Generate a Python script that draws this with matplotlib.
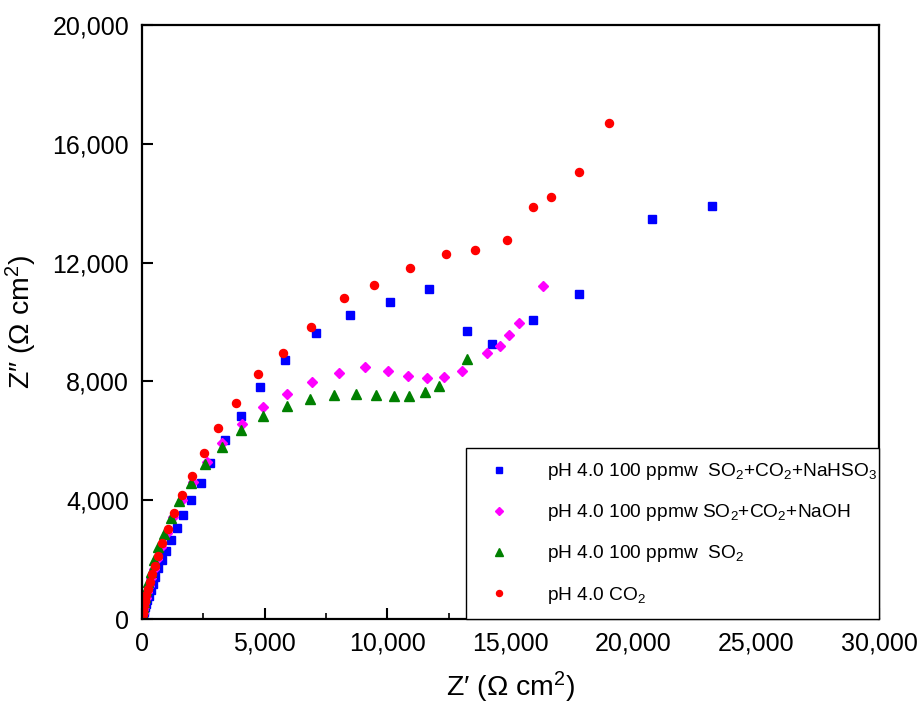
import matplotlib
matplotlib.use("Agg")
import matplotlib.pyplot as plt
from matplotlib.ticker import MultipleLocator, FuncFormatter

plt.rcParams['font.family'] = ['Liberation Sans', 'DejaVu Sans']
plt.rcParams['mathtext.fontset'] = 'custom'
plt.rcParams['mathtext.rm'] = 'Liberation Sans'
plt.rcParams['mathtext.it'] = 'Liberation Sans:italic'
plt.rcParams['mathtext.bf'] = 'Liberation Sans:bold'

# Data (Z', Z'') in Ohm cm^2
nahso3_x = [23192, 20776, 17781, 15909, 14266, 13224, 11690, 10103, 8489, 7080, 5831, 4826,
            4040, 3389, 2779, 2401, 2006, 1693, 1424, 1180, 977, 814, 676, 554,
            450, 365, 295, 235, 185, 145, 110, 85, 62, 45, 30, 20]
nahso3_y = [13895, 13479, 10953, 10057, 9270, 9687, 11111, 10684, 10246, 9630, 8731, 7811,
            6846, 6027, 5263, 4590, 3996, 3502, 3054, 2660, 2300, 1987, 1707, 1424,
            1180, 970, 790, 640, 510, 400, 310, 235, 170, 120, 80, 50]

naoh_x = [16328, 15350, 14958, 14566, 14037, 13045, 12312, 11596, 10835, 10034, 9086, 8016,
          6917, 5900, 4948, 4069, 3281, 2645, 2101, 1650, 1290, 1010, 790, 620,
          480, 370, 280, 210, 155, 110, 78, 52, 34, 20]
naoh_y = [11202, 9976, 9562, 9181, 8967, 8360, 8138, 8125, 8172, 8360, 8474, 8293,
          7970, 7576, 7148, 6555, 5916, 5297, 4623, 4000, 3420, 2900, 2430, 2030,
          1680, 1380, 1120, 900, 710, 550, 410, 300, 210, 140]

so2_x = [13224, 12097, 11527, 10888, 10266, 9533, 8719, 7824, 6848, 5900, 4948, 4040,
         3255, 2576, 2006, 1530, 1180, 895, 676, 500, 366, 244, 170, 115, 75, 48, 30, 18]
so2_y = [8744, 7855, 7653, 7519, 7519, 7542, 7576, 7542, 7397, 7172, 6835, 6364,
         5801, 5209, 4569, 3973, 3391, 2862, 2414, 1987, 1593, 1256, 980, 750, 560, 410, 290, 200]

co2_x = [19001, 17781, 16642, 15921, 14851, 13549, 12369, 10904, 9440, 8219, 6889, 5762,
         4732, 3825, 3117, 2547, 2034, 1627, 1302, 1058, 838, 676, 541, 419,
         325, 250, 190, 140, 100, 70, 50, 35, 25, 16]
co2_y = [16710, 15051, 14209, 13862, 12761, 12414, 12279, 11829, 11246, 10818, 9832, 8967,
         8239, 7283, 6421, 5599, 4825, 4165, 3559, 3030, 2549, 2131, 1795, 1505,
         1236, 1000, 800, 620, 470, 350, 250, 170, 110, 60]

labels = ['pH 4.0 100 ppmw  SO$_2$+CO$_2$+NaHSO$_3$',
          'pH 4.0 100 ppmw SO$_2$+CO$_2$+NaOH',
          'pH 4.0 100 ppmw  SO$_2$',
          'pH 4.0 CO$_2$']

fig = plt.figure(figsize=(9.22, 7.06), dpi=100)
ax = fig.add_axes([0.1537, 0.1232, 0.7997, 0.8414])

ax.plot(nahso3_x, nahso3_y, ls='none', marker='s', ms=5.2, color='#0000ff', mec='#0000ff', label=labels[0])
ax.plot(naoh_x, naoh_y, ls='none', marker='D', ms=5.2, color='#ff00ff', mec='#ff00ff', label=labels[1])
ax.plot(so2_x, so2_y, ls='none', marker='^', ms=7.0, color='#008000', mec='#008000', label=labels[2])
ax.plot(co2_x, co2_y, ls='none', marker='o', ms=5.8, color='#ff0000', mec='#ff0000', label=labels[3])

ax.set_xlim(0, 30000)
ax.set_ylim(0, 20000)
ax.xaxis.set_major_locator(MultipleLocator(5000))
ax.xaxis.set_minor_locator(MultipleLocator(2500))
ax.yaxis.set_major_locator(MultipleLocator(4000))
fmt = FuncFormatter(lambda v, p: f'{int(round(v)):,}')
ax.xaxis.set_major_formatter(fmt)
ax.yaxis.set_major_formatter(fmt)

ax.tick_params(axis='both', which='major', direction='in', length=8, width=1.5,
               labelsize=18, top=False, right=False, pad=9)
ax.tick_params(axis='x', which='minor', direction='in', length=4.5, width=1.2, top=False)
for s in ax.spines.values():
    s.set_linewidth(1.6)

ax.set_xlabel('Z′ (Ω cm$^2$)', fontsize=20.5, labelpad=10)
ax.set_ylabel('Z″ (Ω cm$^2$)', fontsize=20.5, labelpad=10)

leg = ax.legend(loc='lower left', bbox_to_anchor=(0.44, 0.0, 0.56, 0.284), mode='expand',
                borderaxespad=0, fontsize=13.8, markerscale=0.75, handlelength=2.0,
                handletextpad=1.5, borderpad=0.7, labelspacing=1.05, fancybox=False,
                frameon=True, edgecolor='black', framealpha=1.0, numpoints=1)
leg.get_frame().set_linewidth(1.0)
leg.set_zorder(10)

fig.savefig('out.png', dpi=100, facecolor='white')
